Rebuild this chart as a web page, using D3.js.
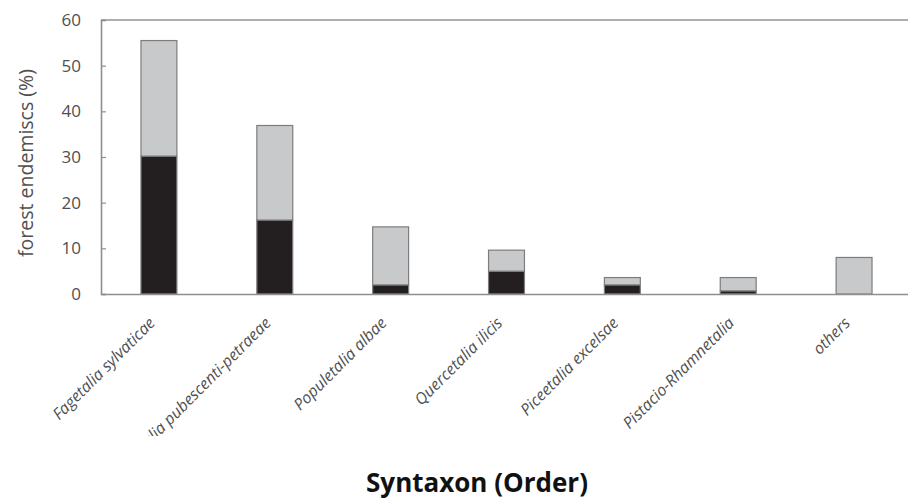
<!DOCTYPE html>
<html><head><meta charset="utf-8">
<script src="https://cdn.jsdelivr.net/npm/d3@7"></script>
<style>body{margin:0;background:#fff}svg{display:block}</style>
</head><body>
<svg id="c" width="908" height="500"></svg>
<script>
const categories = ["Fagetalia sylvaticae","Quercetalia pubescenti-petraeae","Populetalia albae","Quercetalia ilicis","Piceetalia excelsae","Pistacio-Rhamnetalia","others"];
const endemicBlack = [30.2, 16.2, 2.0, 5.0, 2.0, 0.7, 0];
const endemicGrey = [25.3, 20.7, 12.7, 4.6, 1.6, 2.9, 8.0];
const yTicks = [0,10,20,30,40,50,60];
const yLabel = "forest endemiscs (%)";
const xTitle = "Syntaxon (Order)";

const svg = d3.select("#c");
const m = {left:101, top:20, right:-4, bottom:206};
const W = 908, H = 500;
const x = d3.scaleBand().domain(categories).range([m.left, W - m.right]).paddingInner(0.69).paddingOuter(0.345);
const y = d3.scaleLinear().domain([0,60]).range([294, 20]);

const rows = categories.map((c,i)=>({cat:c, black:endemicBlack[i], grey:endemicGrey[i]}));
const stack = d3.stack().keys(["black","grey"])(rows);
const colors = {black:"#231f20", grey:"#c8c9cb"};

// frame
svg.append("line").attr("x1",m.left).attr("x2",W).attr("y1",y(60)).attr("y2",y(60)).attr("stroke","#949494").attr("stroke-width",1.6);

// bars
stack.forEach(s=>{
  svg.append("g").selectAll("rect").data(s).join("rect")
    .attr("x", d=>x(d.data.cat))
    .attr("width", x.bandwidth())
    .attr("y", d=>y(d[1]))
    .attr("height", d=>Math.max(0, y(d[0])-y(d[1])))
    .attr("fill", colors[s.key])
    .attr("stroke", d=> (d[1]-d[0])>0 ? "#7d7d7d" : "none")
    .attr("stroke-width",1.2);
});

// y axis
const ya = svg.append("g").attr("transform",`translate(${m.left},0)`)
  .call(d3.axisLeft(y).tickValues(yTicks).tickSize(-5).tickPadding(20));
ya.select(".domain").attr("stroke","#8e8e8e").attr("stroke-width",1.6);
ya.selectAll(".tick line").attr("stroke","#8e8e8e").attr("stroke-width",1.2);
ya.selectAll(".tick text").attr("font-family","Open Sans").attr("font-size",17).attr("fill","#505050");

// x axis line
const xa = svg.append("g").attr("transform",`translate(0,${y(0)})`)
  .call(d3.axisBottom(x).tickSize(0).tickFormat(""));
xa.select(".domain").attr("stroke","#8e8e8e").attr("stroke-width",1.6);

// clipped x labels
svg.append("clipPath").attr("id","clipLab").append("rect").attr("x",0).attr("y",296).attr("width",W).attr("height",140);
svg.append("g").attr("clip-path","url(#clipLab)")
  .selectAll("text").data(categories).join("text")
  .attr("transform", d=>`translate(${x(d)+x.bandwidth()/2-3},${324}) rotate(-45)`)
  .attr("text-anchor","end")
  .attr("font-family","Open Sans").attr("font-style","italic").attr("font-size",16)
  .attr("fill","#505050")
  .text(d=>d);

// y label
svg.append("text").attr("transform","translate(33,163) rotate(-90)")
  .attr("text-anchor","middle").attr("font-family","Open Sans").attr("font-size",19.5).attr("fill","#505050")
  .text(yLabel);

// x title
svg.append("text").attr("x",477).attr("y",492).attr("text-anchor","middle")
  .attr("font-family","Open Sans").attr("font-weight","bold").attr("font-size",26).attr("fill","#111")
  .text(xTitle);
</script>
</body></html>
